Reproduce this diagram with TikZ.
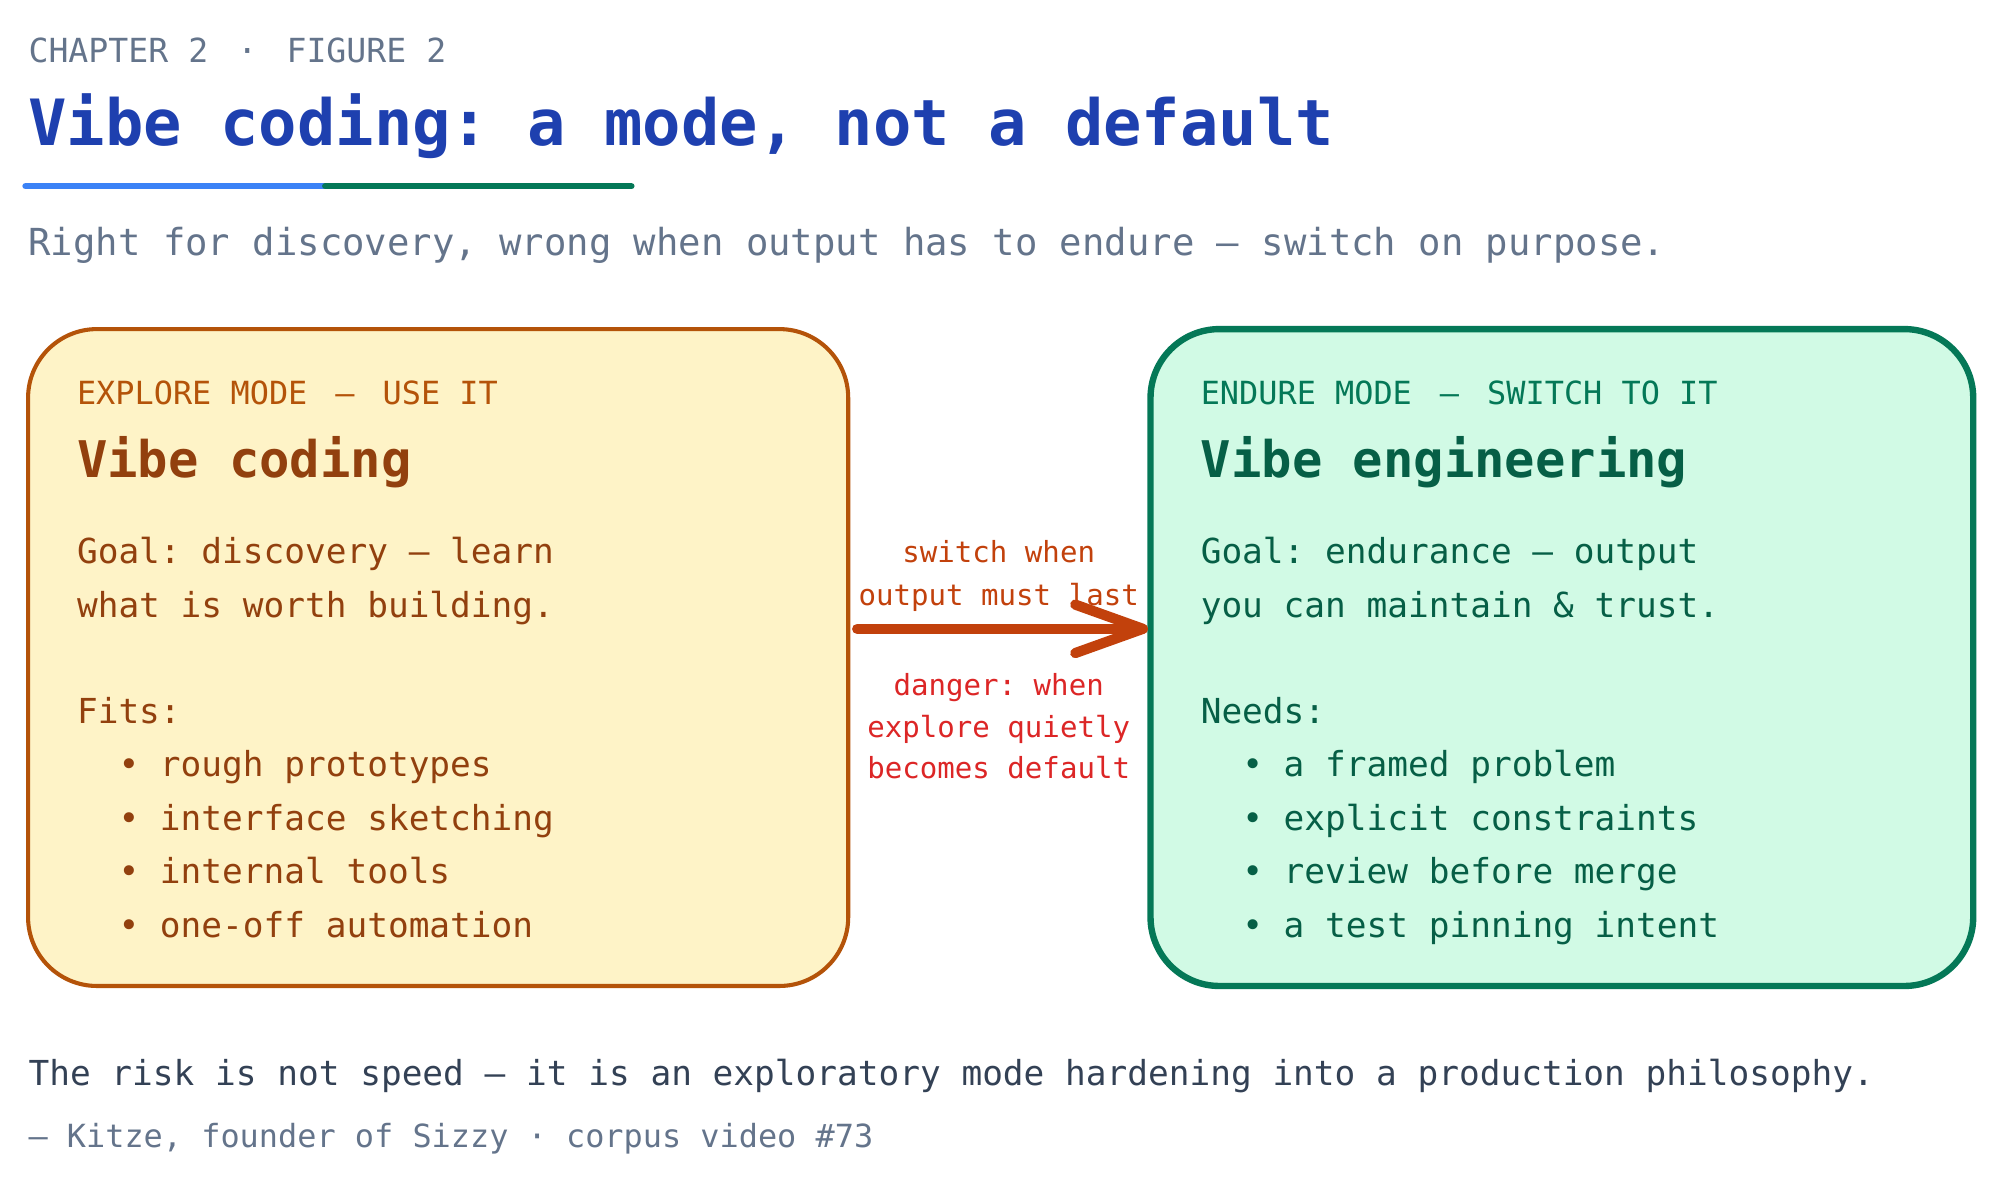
\documentclass[tikz,border=0pt]{standalone}
\usepackage{fontspec}
\setmonofont{DejaVu Sans Mono}
\setmainfont{DejaVu Sans Mono}
\frenchspacing
\definecolor{gr}{HTML}{64748B}
\definecolor{ttl}{HTML}{1E40AF}
\definecolor{ublue}{HTML}{3B82F6}
\definecolor{ugreen}{HTML}{047857}
\definecolor{lfill}{HTML}{FEF3C7}
\definecolor{ldraw}{HTML}{B45309}
\definecolor{ltext}{HTML}{92400E}
\definecolor{rfill}{HTML}{D1FAE5}
\definecolor{rdraw}{HTML}{047857}
\definecolor{rtext}{HTML}{065F46}
\definecolor{arr}{HTML}{C2410C}
\definecolor{dng}{HTML}{DC2626}
\definecolor{foot}{HTML}{334155}
\tikzset{t/.style={anchor=base west,inner sep=0pt},
 c/.style={anchor=base,inner sep=0pt},
 body/.style={t,font=\fontsize{13.5}{16}\selectfont}}
\begin{document}
\begin{tikzpicture}[x=0.5pt,y=-0.5pt]
\useasboundingbox (0,0) rectangle (1568,932);
\node[t,text=gr,font=\fontsize{13}{15}\selectfont] (ch) at (22,49) {CHAPTER 2 \;·\; FIGURE 2};
\node[t,text=ttl,font=\fontsize{25}{30}\selectfont\bfseries] (title) at (22,114) {Vibe coding: a mode, not a default};
\draw[ublue,line width=2.5pt,line cap=round] (20,146) -- (255,146);
\draw[ugreen,line width=2.5pt,line cap=round] (255,146) -- (495,146);
\node[t,text=gr,font=\fontsize{14.6}{18}\selectfont] (sub) at (22,200) {Right for discovery, wrong when output has to endure – switch on purpose.};
\draw[ldraw,fill=lfill,line width=1.6pt,rounded corners=27pt] (22,258) rectangle (665,773);
\draw[rdraw,fill=rfill,line width=2.5pt,rounded corners=27pt] (902,258) rectangle (1547,773);
% left
\node[t,text=ldraw,font=\fontsize{12.5}{15}\selectfont] (l1) at (60,317) {EXPLORE MODE \;–\; USE IT};
\node[t,text=ltext,font=\fontsize{19.8}{22}\selectfont\bfseries] (l2) at (60,374) {Vibe coding};
\foreach \y/\s in {442/{Goal: discovery – learn},484/{what is worth building.},567/{Fits:},609/{\ \ • rough prototypes},651/{\ \ • interface sketching},693/{\ \ • internal tools},735/{\ \ • one-off automation}}
 \node[body,text=ltext] at (60,\y) {\s};
% right
\node[t,text=rdraw,font=\fontsize{12.5}{15}\selectfont] (r1) at (941,317) {ENDURE MODE \;–\; SWITCH TO IT};
\node[t,text=rtext,font=\fontsize{19.8}{22}\selectfont\bfseries] (r2) at (941,374) {Vibe engineering};
\foreach \y/\s in {442/{Goal: endurance – output},484/{you can maintain \& trust.},567/{Needs:},609/{\ \ • a framed problem},651/{\ \ • explicit constraints},693/{\ \ • review before merge},735/{\ \ • a test pinning intent}}
 \node[body,text=rtext] at (941,\y) {\s};
% arrow
\coordinate (a0) at (672,493); \coordinate (a1) at (896,493);
\draw[arr,line width=4pt,line cap=round] (a0) -- (a1);
\draw[arr,line width=4pt,line cap=round,line join=round] (843,474) -- (a1) -- (843,512);
\foreach \y/\s in {441/{switch when},475/{output must last}}
 \node[c,text=arr,font=\fontsize{11.4}{13}\selectfont] at (783,\y) {\s};
\foreach \y/\s in {545/{danger: when},578/{explore quietly},610/{becomes default}}
 \node[c,text=dng,font=\fontsize{11.4}{13}\selectfont] at (783,\y) {\s};
% footer
\node[t,text=foot,font=\fontsize{13.5}{16}\selectfont] (f1) at (22,851) {The risk is not speed – it is an exploratory mode hardening into a production philosophy.};
\node[t,text=gr,font=\fontsize{12.5}{15}\selectfont] (f2) at (22,900) {– Kitze, founder of Sizzy · corpus video \#73};
\end{tikzpicture}
\end{document}
